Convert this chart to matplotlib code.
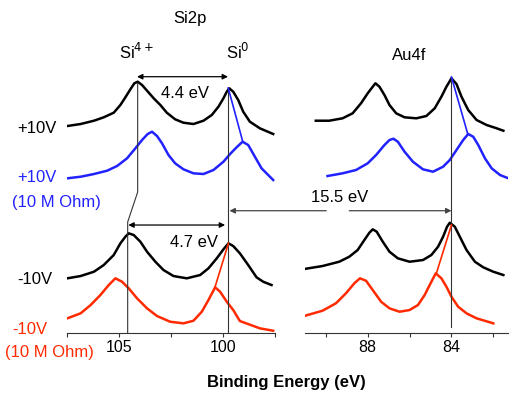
import matplotlib
matplotlib.use("Agg")
import matplotlib.pyplot as plt

plt.rcParams['font.family'] = ['Liberation Sans', 'DejaVu Sans']

BLUE = "#2222ff"
RED = "#ff2a00"

# Si2p region: binding energy (eV) and intensity above each trace's baseline
si_e_top = [107.47, 106.83, 106.19, 105.72, 105.24, 104.92, 104.68, 104.44, 104.25, 104.09,
            103.88, 103.64, 103.32, 103.00, 102.69, 102.29, 101.89, 101.41, 100.93, 100.53,
            100.21, 99.97, 99.81, 99.69, 99.50, 99.26, 99.02, 98.70, 98.22, 97.58]
si_pos = [17, 19, 22.3, 25.7, 30.3, 38, 45.7, 53.7, 59.7, 61.3,
          58, 52.3, 44.7, 38, 30.3, 23.7, 20.3, 19, 22.3, 28,
          36.3, 44.7, 51.3, 54.7, 51.3, 43, 31.3, 21.3, 14.7, 9]

si_e_blue = [107.47, 106.83, 106.19, 105.56, 105.08, 104.60, 104.20, 103.88, 103.61, 103.40,
             103.16, 102.92, 102.61, 102.29, 101.89, 101.41, 100.93, 100.45, 99.97, 99.65,
             99.34, 99.05, 98.78, 98.46, 98.14, 97.58]
si_pos_r = [14.7, 16.3, 19, 22.3, 27, 34.7, 44.7, 53, 59, 61.3,
            57, 49.7, 38, 29.7, 23.7, 19.7, 19, 23, 31.3, 39,
            45.7, 51.3, 48, 36.3, 24.7, 13]

si_e_neg = [107.47, 106.83, 106.19, 105.72, 105.24, 104.92, 104.68, 104.52, 104.28, 103.96,
            103.64, 103.24, 102.85, 102.37, 101.73, 101.09, 100.69, 100.29, 99.97, 99.73,
            99.50, 99.18, 98.78, 98.38, 98.06, 97.66]
si_neg = [14.7, 17, 21.3, 28, 38, 49.7, 56.3, 59.7, 58, 51.3,
          41.3, 31.3, 23, 17, 14.7, 18, 24.7, 34.7, 43.7, 49.7,
          47, 39.7, 28, 15.7, 11.3, 8]

si_e_red = [107.47, 106.83, 106.35, 105.88, 105.48, 105.16, 104.84, 104.52, 104.12, 103.64,
            103.16, 102.53, 101.89, 101.41, 101.01, 100.69, 100.37, 100.13, 99.81, 99.50,
            99.18, 98.22, 97.58]
si_neg_r = [14.7, 19.7, 28, 38, 48, 54.7, 51.3, 44.7, 34.7, 24.7,
            17, 11.3, 9.7, 12.3, 21.3, 33, 45.7, 41.3, 31.3, 23,
            12, 4.7, 2.3]

# Au4f region
au_e_top = [90.48, 89.84, 89.20, 88.72, 88.32, 88.00, 87.76, 87.63, 87.44, 87.20,
            86.96, 86.64, 86.24, 85.68, 85.20, 84.80, 84.48, 84.24, 84.00, 83.76,
            83.52, 83.20, 82.80, 82.32, 81.84, 81.52]
au_pos = [22.3, 22.3, 24.7, 29.7, 39.7, 49.7, 56.3, 59.7, 56.3, 48,
          38, 29.7, 25.7, 24.7, 27, 34.7, 46.3, 56.3, 64.7, 59,
          46.3, 33, 23, 18, 14.7, 12.3]

au_e_blue = [89.92, 89.20, 88.56, 88.00, 87.60, 87.20, 86.96, 86.77, 86.56, 86.24,
             85.84, 85.36, 84.88, 84.40, 84.08, 83.76, 83.44, 83.20, 82.96, 82.72,
             82.40, 82.08, 81.68, 81.28]
au_pos_r = [17, 19.7, 23, 29.7, 38, 48, 53, 54.3, 51.3, 41.3,
            31.3, 23.7, 21.3, 26.3, 33, 43, 53, 59, 56.3, 48,
            34.7, 24.7, 18, 14.7]

au_e_neg = [91.04, 90.16, 89.36, 88.88, 88.48, 88.16, 87.92, 87.76, 87.57, 87.28,
            86.96, 86.56, 86.00, 85.36, 84.96, 84.64, 84.40, 84.21, 84.08, 83.84,
            83.60, 83.28, 82.88, 82.48, 82.00, 81.52]
au_neg = [24, 27, 31.3, 36.3, 43, 53, 60.3, 63.7, 61.3, 51.3,
          41.3, 34.7, 31.3, 33, 38, 46.3, 56.3, 66.3, 70.3, 66.3,
          56.3, 43, 31.3, 25.7, 21.3, 18]

au_e_red = [91.04, 90.16, 89.52, 89.04, 88.64, 88.37, 88.08, 87.76, 87.36, 86.96,
            86.48, 86.00, 85.60, 85.28, 85.04, 84.75, 84.48, 84.24, 84.00, 83.68,
            83.28, 82.80, 82.00]
au_neg_r = [17, 22.3, 29.7, 39.7, 49.7, 54.7, 52.3, 43, 31.3, 24.7,
            21.3, 23, 28, 38, 48, 59.7, 54.7, 46.3, 36.3, 26.3,
            19.7, 14.7, 9.7]

# vertical offsets of the stacked traces
off_pos, off_pos_r, off_neg, off_neg_r = 190, 140, 40, 0

fig = plt.figure(figsize=(5.09, 3.96), dpi=100)
ax1 = fig.add_axes([0.131, 0.159, 0.409, 0.841])
ax2 = fig.add_axes([0.599, 0.159, 0.399, 0.841])

def shift(vals, off):
    return [v + off for v in vals]

lw = 1.8
ax1.plot(si_e_top, shift(si_pos, off_pos), color="black", lw=lw)
ax1.plot(si_e_blue, shift(si_pos_r, off_pos_r), color=BLUE, lw=lw)
ax1.plot(si_e_neg, shift(si_neg, off_neg), color="black", lw=lw)
ax1.plot(si_e_red, shift(si_neg_r, off_neg_r), color=RED, lw=lw)

ax2.plot(au_e_top, shift(au_pos, off_pos), color="black", lw=lw)
ax2.plot(au_e_blue, shift(au_pos_r, off_pos_r), color=BLUE, lw=lw)
ax2.plot(au_e_neg, shift(au_neg, off_neg), color="black", lw=lw)
ax2.plot(au_e_red, shift(au_neg_r, off_neg_r), color=RED, lw=lw)

ax1.set_xlim(107.5, 97.5)
ax2.set_xlim(91.0, 81.3)
for ax in (ax1, ax2):
    ax.set_ylim(0, 333)
    ax.patch.set_visible(False)
    for s in ("left", "right", "top"):
        ax.spines[s].set_visible(False)
    ax.spines["bottom"].set_color("#333333")
    ax.set_yticks([])
    ax.tick_params(axis="x", direction="out", length=3, width=0.8,
                   colors="#333333", labelsize=11.5, labelcolor="black", pad=2)

ax1.set_xticks([107.5, 105, 102.5, 100, 97.5])
ax1.set_xticklabels(["", "105", "", "100", ""])
ax2.set_xticks([90, 88, 86, 84, 82])
ax2.set_xticklabels(["", "88", "", "84", ""])

# peak marker lines
lc = "#333333"
ax1.plot([104.09, 104.09, 104.57, 104.57], [250, 141, 111, 0], color=lc, lw=0.8)
ax1.plot([99.73, 99.73], [245, 0], color=lc, lw=0.8)
ax2.plot([84.0, 84.0], [256, 6], color=lc, lw=0.8)

# peak shift connectors
ax1.plot([99.74, 99.05], [245, 192], color=BLUE, lw=1.2)
ax2.plot([84.0, 83.23], [256, 199.7], color=BLUE, lw=1.2)
ax1.plot([99.73, 100.37], [89.7, 46.3], color=RED, lw=1.2)
ax2.plot([84.0, 84.72], [108, 59.7], color=RED, lw=1.2)

arw = dict(arrowstyle="<|-|>", color="black", lw=0.9, mutation_scale=8,
           shrinkA=0, shrinkB=0)
ax1.annotate("", xy=(99.75, 256.3), xytext=(104.12, 256.3), arrowprops=arw)
ax1.text(101.8, 240, "4.4 eV", ha="center", va="center", fontsize=12)
ax1.annotate("", xy=(99.89, 108), xytext=(104.54, 108), arrowprops=arw)
ax1.text(101.4, 91, "4.7 eV", ha="center", va="center", fontsize=12)

one = dict(arrowstyle="-|>", color="#444444", lw=0.9, mutation_scale=8,
           shrinkA=0, shrinkB=0)
ax2.annotate("", xy=(99.68, 122.3), xycoords=ax1.transData,
             xytext=(89.98, 122.3), textcoords=ax2.transData,
             arrowprops=one, annotation_clip=False)
ax2.annotate("", xy=(84.0, 122.3), xytext=(88.88, 122.3), arrowprops=one)
ax2.text(89.36, 136, "15.5 eV", ha="center", va="center", fontsize=12)

# titles and labels
fig.text(190 / 509, 1 - 18 / 396, "Si2p", ha="center", va="center", fontsize=12)
fig.text(137 / 509, 1 - 52 / 396, "Si$^{4+}$", ha="center", va="center", fontsize=12)
fig.text(238 / 509, 1 - 52 / 396, "Si$^{0}$", ha="center", va="center", fontsize=12)
fig.text(409 / 509, 1 - 55 / 396, "Au4f", ha="center", va="center", fontsize=12)

fig.text(17 / 509, 1 - 128 / 396, "+10V", ha="left", va="center", fontsize=12)
fig.text(17 / 509, 1 - 177 / 396, "+10V", ha="left", va="center", fontsize=12, color=BLUE)
fig.text(12 / 509, 1 - 203 / 396, "(10 M Ohm)", ha="left", va="center", fontsize=12, color=BLUE)
fig.text(17 / 509, 1 - 280 / 396, "-10V", ha="left", va="center", fontsize=12)
fig.text(12 / 509, 1 - 330 / 396, "-10V", ha="left", va="center", fontsize=12, color=RED)
fig.text(5 / 509, 1 - 353 / 396, "(10 M Ohm)", ha="left", va="center", fontsize=12, color=RED)

fig.text(286 / 509, 1 - 383 / 396, "Binding Energy (eV)", ha="center", va="center",
         fontsize=12, fontweight="bold")

fig.savefig("out.png", dpi=100)
